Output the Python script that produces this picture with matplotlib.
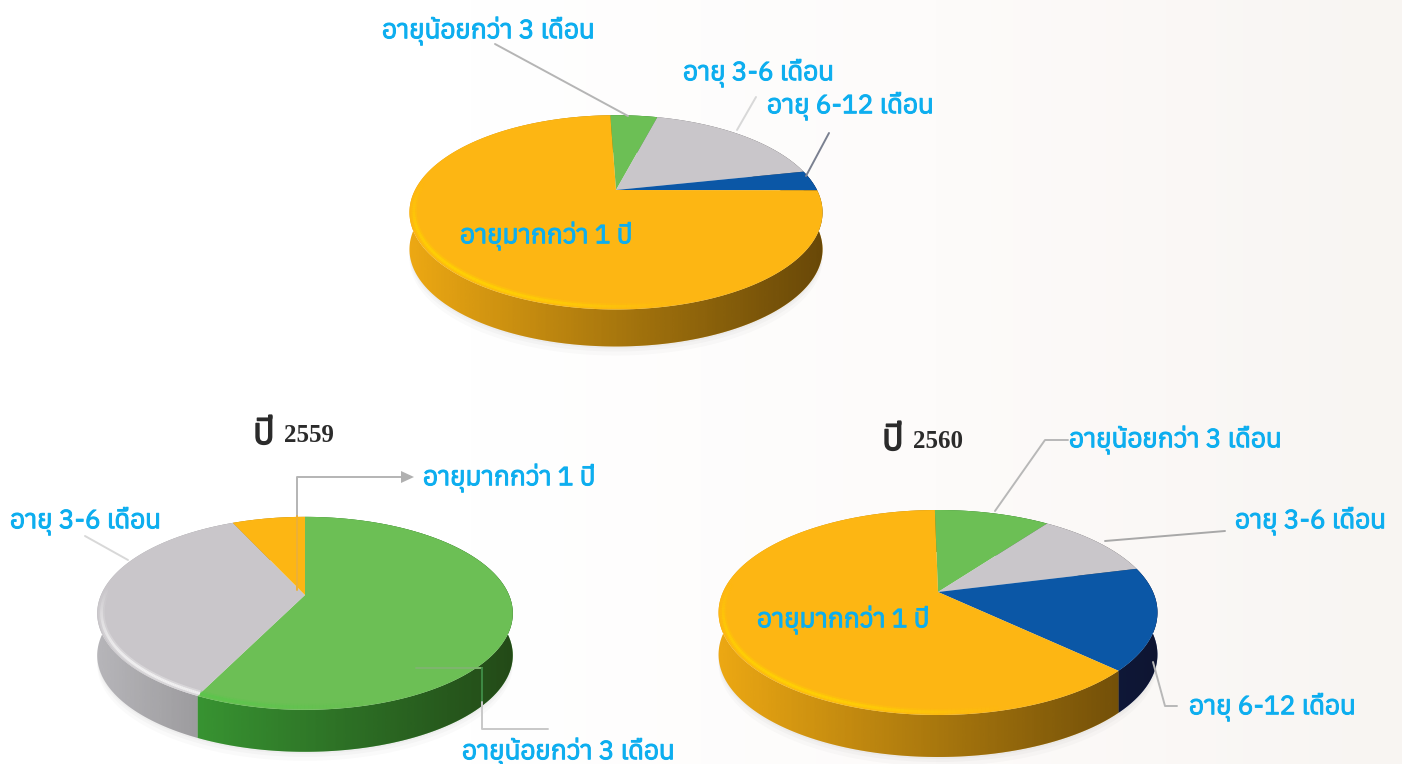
import numpy as np
import matplotlib
matplotlib.use('Agg')
from matplotlib import pyplot as plt
from matplotlib import font_manager as fm
from matplotlib import patheffects as pe
from matplotlib.path import Path
from matplotlib.patches import PathPatch
from matplotlib.colors import LinearSegmentedColormap

# slice order: clockwise from the start angle
colors_top = ['#6CBF55', '#C9C6CA', '#0B57A6', '#FDB613']
colors_wall = ['#43B23C', '#BDBCC0', '#0E2C7E', '#F5AE14']
colors_rim = ['#58C84A', '#FFFFFF', '#0B57A6', '#FFD800']

shares_top = [4.6, 17.6, 3.4, 74.4]
shares_left = [57.2, 36.0, 0.0, 6.8]
shares_right = [10.3, 11.0, 16.1, 62.6]

TXT_UNDER3 = 'อายุน้อยกว่า 3 เดือน'
TXT_3TO6 = 'อายุ 3-6 เดือน'
TXT_6TO12 = 'อายุ 6-12 เดือน'
TXT_OVER1 = 'อายุมากกว่า 1 ปี'


def thai_fonts():
    found = []
    for f in fm.fontManager.ttflist:
        try:
            if 0x0E01 in fm.get_font(f.fname).get_charmap():
                found.append(f.name)
        except Exception:
            pass
    return sorted(set(found))


found_fonts = thai_fonts()
body_family = found_fonts + ['Noto Sans', 'DejaVu Sans']


def project(theta, r, cx, cy, a, b, k):
    # theta is clockwise from the top; circle seen in perspective
    x = r * np.sin(theta)
    y = r * np.cos(theta)
    w = 1 + k * y
    return cx + b * x / w, cy - a * y / w


def draw_pie(ax, shares, start, cx, cy, a, b, k, depth):
    fracs = np.array(shares) / np.sum(shares)
    edges = np.radians(start) + 2 * np.pi * np.concatenate([[0], np.cumsum(fracs)])
    xr, yr = project(np.linspace(0, 2 * np.pi, 400), 1, cx, cy, a, b, k)

    # soft shadow under the disc
    for grow, alpha in [(9, 0.04), (5, 0.05), (2, 0.06)]:
        ax.fill(xr, yr + depth + grow, color='#888888', alpha=alpha, lw=0, zorder=1)

    # side wall, one polygon per slice
    for i, col in enumerate(colors_wall):
        if fracs[i] == 0:
            continue
        th = np.linspace(edges[i], edges[i + 1], 200)
        x, y = project(th, 1, cx, cy, a, b, k)
        ax.fill(np.r_[x, x[::-1]], np.r_[y, y[::-1] + depth], color=col, lw=0, zorder=2)

    # shading across the wall, darker to the right
    verts = np.c_[np.r_[xr, xr[::-1]], np.r_[yr, yr[::-1] + depth]]
    grad = np.linspace(0.03, 0.62, 256).reshape(1, -1)
    shade = LinearSegmentedColormap.from_list('s', [(0, 0, 0, 0), (0.1, 0.05, 0, 1)])
    im = ax.imshow(grad, cmap=shade, vmin=0, vmax=1, aspect='auto', zorder=3,
                   extent=[cx - b * 1.05, cx + b * 1.05, cy + a * 2, cy - a * 2])
    im.set_clip_path(PathPatch(Path(verts), transform=ax.transData))

    # top face
    for i, col in enumerate(colors_top):
        if fracs[i] == 0:
            continue
        th = np.linspace(edges[i], edges[i + 1], 200)
        x, y = project(th, 1, cx, cy, a, b, k)
        ax.fill(np.r_[cx, x], np.r_[cy, y], color=col, lw=0, zorder=4)

    # bright rim on the lower left edge of the face, soft then sharp
    for i, col in enumerate(colors_rim):
        if fracs[i] == 0:
            continue
        th = np.linspace(edges[i], edges[i + 1], 240)
        x, y = project(th, 0.98, cx, cy, a, b, k)
        deg = np.degrees(th) % 360
        strength = np.clip(np.sin(np.radians((deg - 165) * 180 / 110)), 0, 1)
        strength[(deg < 165) | (deg > 275)] = 0
        for j in range(len(th) - 1):
            if strength[j] > 0.02:
                ax.plot(x[j:j + 2], y[j:j + 2], color=col, alpha=float(strength[j]) * 0.3,
                        lw=4.5, zorder=4.4, solid_capstyle='butt')
                ax.plot(x[j:j + 2], y[j:j + 2], color=col, alpha=float(strength[j]) * 0.65,
                        lw=2, zorder=4.5, solid_capstyle='butt')


fig = plt.figure(figsize=(14.02, 7.64), dpi=100)
ax = fig.add_axes([0, 0, 1, 1])

# paper background, slightly warm to the right
bg = LinearSegmentedColormap.from_list('bg', ['#FFFFFF', '#FFFFFF', '#FDFBFA', '#F8F5F2'])
ax.imshow(np.linspace(0, 1, 256).reshape(1, -1), cmap=bg, aspect='auto',
          extent=[0, 1402, 764, 0], zorder=0)

draw_pie(ax, shares_top, -2, 616, 190, 92, 201, 0.23, 37)
draw_pie(ax, shares_left, 0, 305, 595, 93, 204, 0.19, 42)
draw_pie(ax, shares_right, -1, 938, 592, 98.4, 215, 0.20, 42)

# leader lines
leaders = [
    ([495, 628], [44, 116], '#B5B5B5'),
    ([756, 737], [97, 130], '#D8D8D8'),
    ([829, 806], [133, 176], '#7A8090'),
    ([1068, 1045, 995], [440, 440, 511], '#B8B8B8'),
    ([1225, 1105], [531, 541], '#A8A8A8'),
    ([1177, 1165, 1153], [706, 706, 662], '#B8B8B8'),
    ([297, 297, 405], [516, 477, 477], '#B4B4B4'),
    ([297, 297], [516, 590], '#EDB036'),
    ([416, 482], [668, 668], '#7FB56F'),
    ([482, 482], [668, 702], '#3E8A45'),
    ([482, 482, 548], [702, 729, 729], '#C8C8C8'),
    ([85, 128], [536, 560], '#D8D8D8'),
]
for xs, ys, col in leaders:
    ax.plot(xs, ys, color=col, lw=1.4, zorder=5, solid_capstyle='round')
ax.fill([401, 414, 401], [471, 477, 483], color='#B0B0B0', lw=0, zorder=5)

# labels
label_spots = [
    (382, 31, TXT_UNDER3), (683, 73, TXT_3TO6), (767, 106, TXT_6TO12), (460, 236, TXT_OVER1),
    (423, 478, TXT_OVER1), (10, 521, TXT_3TO6), (462, 752, TXT_UNDER3),
    (1069, 440, TXT_UNDER3), (1235, 521, TXT_3TO6), (757, 620, TXT_OVER1), (1189, 707, TXT_6TO12),
]
for x, y, s in label_spots:
    ax.text(x, y, s, color='#0DAEEF', fontsize=18.9, family=body_family, ha='left', va='center',
            zorder=6, path_effects=[pe.withStroke(linewidth=0.7, foreground='#0DAEEF')])

title_spots = [(253, 434, '2559'), (882, 440, '2560')]
for x, y, year in title_spots:
    ax.text(x, y, 'ปี', color='#2B2B2B', fontsize=26, family=body_family, ha='left', va='center',
            zorder=6, path_effects=[pe.withStroke(linewidth=1.0, foreground='#2B2B2B')])
    ax.text(x + 31, y + 2, year, color='#2B2B2B', fontsize=18, fontweight='bold',
            family='Liberation Serif', ha='left', va='center', zorder=6)

ax.set_xlim(0, 1402)
ax.set_ylim(764, 0)
ax.axis('off')
fig.savefig('out.png', dpi=100)
